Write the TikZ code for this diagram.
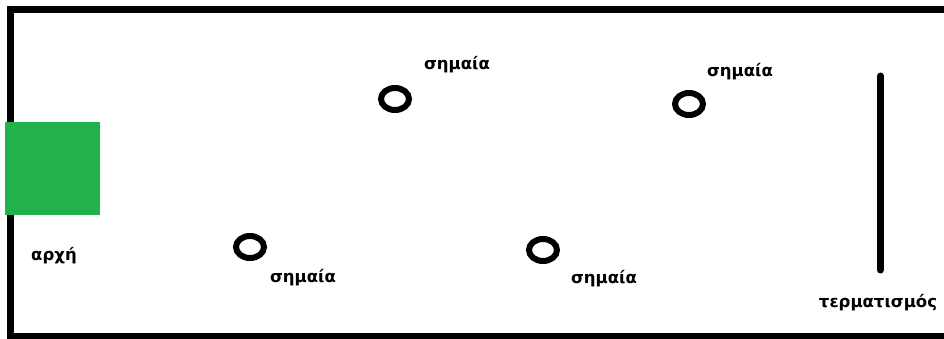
\documentclass[tikz,border=0pt]{standalone}
\usepackage{fontspec}
\setmainfont{DejaVu Sans}
\usepackage{xcolor}
\usetikzlibrary{shapes.geometric}
\definecolor{startgreen}{HTML}{22B14C}

\begin{document}
\begin{tikzpicture}[x=1pt,y=-1pt,
  lbl/.style={font=\fontsize{16.5}{19}\selectfont\bfseries,inner sep=0pt},
  flag/.style={draw=black,line width=6pt,ellipse,minimum width=28pt,minimum height=22pt,inner sep=0pt},
  startbox/.style={fill=startgreen,minimum width=95pt,minimum height=93pt,inner sep=0pt},
  finish/.style={line width=7pt,line cap=round}]
\clip (0,0) rectangle (944,339);
\fill[white] (0,0) rectangle (944,339);
% field border (right side is cut off)
\draw[line width=7pt] (10.5,9.5) rectangle (980,336);
% start
\node[startbox] (start) at (52.5,168.5) {};
\node[lbl] (startlbl) at (54,256) {αρχή};
% flags
\node[flag] (f1) at (395,99) {};
\node[lbl] (f1lbl) at (457,65) {σημαία};
\node[flag] (f2) at (689,104) {};
\node[lbl] (f2lbl) at (740,72) {σημαία};
\node[flag] (f3) at (250,247) {};
\node[lbl] (f3lbl) at (303,278) {σημαία};
\node[flag] (f4) at (543,250) {};
\node[lbl] (f4lbl) at (604,279) {σημαία};
% finish line
\coordinate (endtop) at (880.5,76);
\coordinate (endbot) at (880.5,270);
\draw[finish] (endtop) -- (endbot);
\node[lbl] (endlbl) at (878,303) {τερματισμός};
\end{tikzpicture}
\end{document}
